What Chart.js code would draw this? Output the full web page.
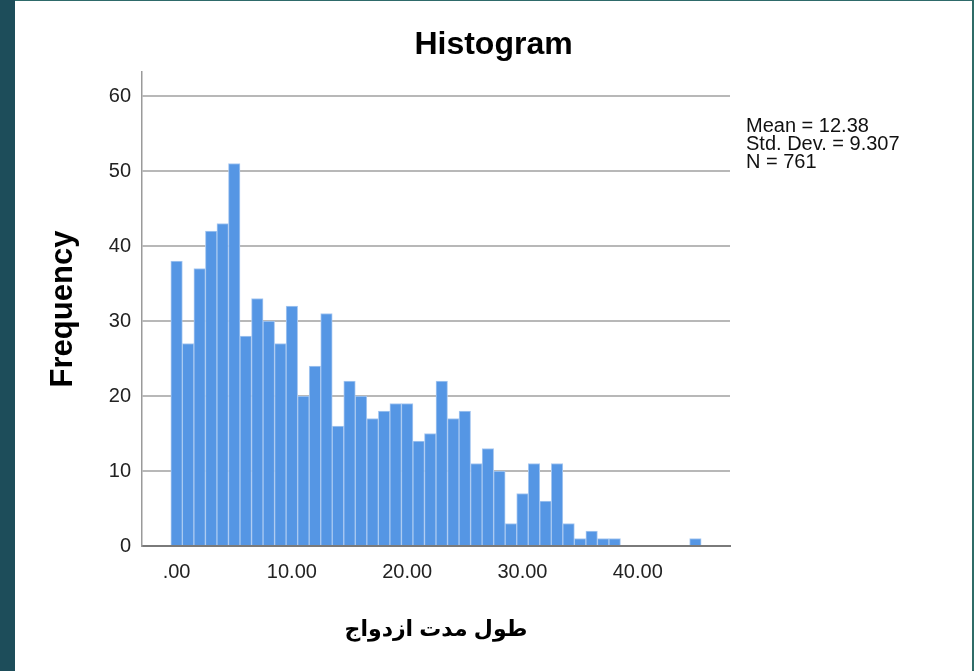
<!DOCTYPE html>
<html>
<head>
<meta charset="utf-8">
<script src="https://cdn.jsdelivr.net/npm/chart.js@4.4.1/dist/chart.umd.min.js"></script>
<style>
  html, body { margin: 0; padding: 0; }
  body { width: 974px; height: 671px; background: #1d4d5a; position: relative; overflow: hidden; }
  #frame { position: absolute; left: 15px; top: 1px; width: 957px; height: 670px; background: #ffffff; }
  #frameTop { position: absolute; left: 15px; top: 0; width: 959px; height: 1px; background: #2e6a6a; }
  #frameRight { position: absolute; left: 972px; top: 0; width: 2px; height: 671px; background: #2f6c68; }
  canvas { display: block; }
</style>
</head>
<body>
<div id="frameTop"></div>
<div id="frameRight"></div>
<div id="frame"><canvas id="c" width="957" height="670"></canvas></div>
<script>
// ---- data ----
const binCenters = [0,1,2,3,4,5,6,7,8,9,10,11,12,13,14,15,16,17,18,19,20,21,22,23,24,25,26,27,28,29,30,31,32,33,34,35,36,37,38,39,40,41,42,43,44,45];
const frequencies = [38,27,37,42,43,51,28,33,30,27,32,20,24,31,16,22,20,17,18,19,19,14,15,22,17,18,11,13,10,3,7,11,6,11,3,1,2,1,1,0,0,0,0,0,0,1];
const xTickValues = [0,10,20,30,40];
const yTickValues = [0,10,20,30,40,50,60];
const chartTitle = 'Histogram';
const xTitle = 'طول مدت ازدواج';
const yTitle = 'Frequency';
const statsLines = ['Mean = 12.38', 'Std. Dev. = 9.307', 'N = 761'];

const FONT = "'Liberation Sans', Arial, 'DejaVu Sans', sans-serif";

const statsPlugin = {
  id: 'stats',
  afterDraw(chart) {
    const ctx = chart.ctx;
    const a = chart.chartArea;
    ctx.save();
    ctx.font = '20px ' + FONT;
    ctx.fillStyle = '#111';
    ctx.textAlign = 'left';
    ctx.textBaseline = 'middle';
    statsLines.forEach((t, i) => ctx.fillText(t, a.right + 16, a.top + 54 + i * 18.4));
    ctx.restore();
  }
};

new Chart(document.getElementById('c'), {
  type: 'bar',
  data: {
    datasets: [{
      data: binCenters.map((x, i) => ({ x: x, y: frequencies[i] || null })),
      backgroundColor: '#5596e4',
      borderColor: '#a9c9f1',
      borderWidth: 1,
      barPercentage: 1,
      categoryPercentage: 1
    }]
  },
  options: {
    responsive: false,
    animation: false,
    devicePixelRatio: 1,
    layout: { padding: 0 },
    plugins: {
      legend: { display: false },
      tooltip: { enabled: false },
      title: {
        display: true,
        text: chartTitle,
        color: '#000',
        font: { family: FONT, size: 32, weight: 'bold' },
        padding: { top: 25, bottom: 7.6 }
      }
    },
    scales: {
      x: {
        type: 'linear',
        offset: false,
        min: -3,
        max: 48,
        afterBuildTicks: s => { s.ticks = xTickValues.map(v => ({ value: v })); },
        afterFit: s => { s.height = 125; },
        ticks: {
          callback: v => (v === 0 ? '.00' : v.toFixed(2)),
          color: '#222',
          font: { family: FONT, size: 20 },
          padding: 14,
          maxRotation: 0,
          autoSkip: false
        },
        grid: { display: false, drawTicks: false },
        border: { display: true, color: '#7a7a7a', width: 2 },
        title: {
          display: true,
          text: xTitle,
          color: '#000',
          font: { family: FONT, size: 22, weight: 'bold' },
          padding: { top: 0, bottom: 28 }
        }
      },
      y: {
        min: 0,
        max: 63.2,
        afterBuildTicks: s => { s.ticks = yTickValues.map(v => ({ value: v })); },
        afterFit: s => { s.width = 127; },
        ticks: {
          color: '#222',
          font: { family: FONT, size: 20 },
          padding: 11
        },
        grid: { color: '#b8b8b8', lineWidth: 2, drawTicks: false },
        border: { display: true, color: '#9a9a9a', width: 1.5 },
        title: {
          display: true,
          text: yTitle,
          color: '#000',
          font: { family: FONT, size: 31, weight: 'bold' },
          padding: { top: 30, bottom: 0 }
        }
      },
      y2: {
        position: 'right',
        display: true,
        afterFit: s => { s.width = 242; },
        grid: { display: false, drawTicks: false },
        ticks: { display: false },
        border: { display: false }
      }
    }
  },
  plugins: [statsPlugin]
});
</script>
</body>
</html>
